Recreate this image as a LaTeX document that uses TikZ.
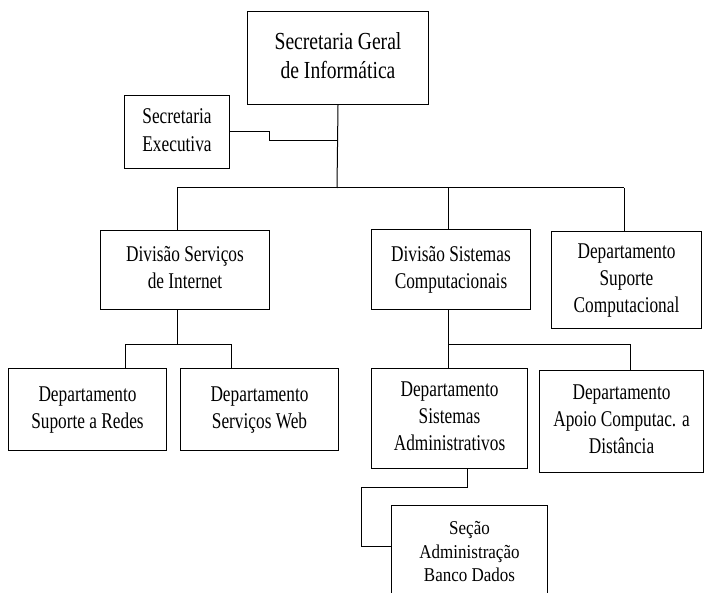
\documentclass[tikz,border=0pt]{standalone}
\usepackage{fontspec}
\setmainfont{Liberation Serif}
\newcommand{\vtext}[2][1.3]{\scalebox{1}[#1]{\begin{tabular}{@{}c@{}}#2\end{tabular}}}
\begin{document}
\begin{tikzpicture}[x=1pt,y=-1pt,
  box/.style={draw, line width=1pt, inner sep=0pt, anchor=north west, align=center, font=\fontsize{17.3}{20.8}\selectfont},
  lnk/.style={line width=1pt}]
\useasboundingbox (0,0) rectangle (704,593);
\clip (0,0) rectangle (704,593);
\node[box, minimum width=181pt, minimum height=93pt, font=\fontsize{19.6}{23.6}\selectfont] (sg) at (247,11) {\vtext[1.25]{Secretaria Geral\\de Informática}};
\node[box, minimum width=105pt, minimum height=73pt, font=\fontsize{17.3}{21.4}\selectfont] (se) at (124,95) {\vtext{Secretaria\\Executiva}};
\node[box, minimum width=169pt, minimum height=79pt] (dsi) at (100,230) {\vtext{Divisão Serviços\\de Internet}};
\node[box, minimum width=159pt, minimum height=80pt] (dsc) at (371,229) {\vtext{Divisão Sistemas\\Computacionais}};
\node[box, minimum width=150pt, minimum height=97pt] (dsup) at (551,231) {\vtext{Departamento\\Suporte\\Computacional}};
\node[box, minimum width=158pt, minimum height=82pt] (dred) at (8,368) {\vtext{Departamento\\Suporte a Redes}};
\node[box, minimum width=158pt, minimum height=82pt] (dweb) at (180,368) {\vtext{Departamento\\Serviços Web}};
\node[box, minimum width=156pt, minimum height=100pt] (dadm) at (371,368) {\vtext{Departamento\\Sistemas\\Administrativos}};
\node[box, minimum width=164pt, minimum height=102pt] (dapo) at (539,370) {\vtext{Departamento\\Apoio Computac. a\\Distância}};
\node[box, minimum width=156pt, minimum height=96pt, font=\fontsize{17}{20.4}\selectfont] (sbd) at (391,505) {\vtext[1.15]{Seção\\Administração\\Banco Dados}};
% connectors
\coordinate (bus) at (337,188);
\coordinate (sej) at (337,141);
\draw[lnk] (sg.south) -- (bus);
\draw[lnk] (se.east) -- ++(39,0) |- (sej);
\draw[lnk] (177,188) -- (624,188);
\draw[lnk] (177,188) -- (dsi.north -| 177,0);
\draw[lnk] (448,188) -- (dsc.north -| 448,0);
\draw[lnk] (624,188) -- (dsup.north -| 624,0);
% internet
\coordinate (ib) at (177,345);
\draw[lnk] (dsi.south -| 177,0) -- (ib);
\draw[lnk] (dred.north -| 125,0) |- (231,345) -- (dweb.north -| 231,0);
% sistemas
\coordinate (sb) at (448,345);
\draw[lnk] (dsc.south -| 448,0) -- (dadm.north -| 448,0);
\draw[lnk] (sb) -- (630,345) -- (dapo.north -| 630,0);
% secao
\draw[lnk] (dadm.south -| 467,0) -- (467,487) -- (361,487) |- (sbd.west |- 0,546);
\end{tikzpicture}
\end{document}
